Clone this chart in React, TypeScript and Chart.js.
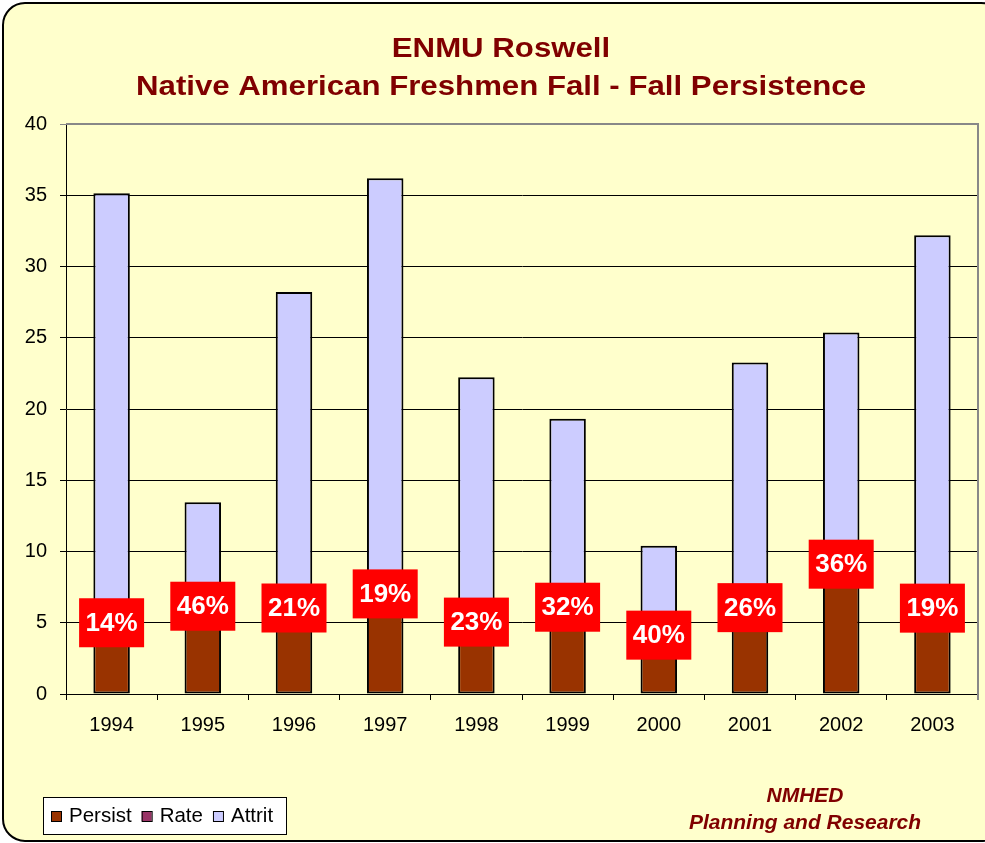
import React, { useEffect, useRef } from "react";
import Chart from "chart.js/auto";

const years = ["1994", "1995", "1996", "1997", "1998", "1999", "2000", "2001", "2002", "2003"];
const persist = [5, 6, 6, 7, 5, 6, 4, 6, 9, 6];
const rate = [0.14, 0.46, 0.21, 0.19, 0.23, 0.32, 0.4, 0.26, 0.36, 0.19];
const attrit = [30, 7, 22, 29, 17, 13, 6, 17, 16, 26];
const rateLabels = ["14%", "46%", "21%", "19%", "23%", "32%", "40%", "26%", "36%", "19%"];
const titleLines = ["ENMU Roswell", "Native American Freshmen Fall - Fall Persistence"];
const footerLines = ["NMHED", "Planning and Research"];
const seriesNames = ["Persist", "Rate", "Attrit"];
const seriesColors = ["#993300", "#993366", "#CCCCFF"];

const FONT = "'Liberation Sans', Arial, sans-serif";
const MAROON = "#800000";

const decor = {
  id: "decor",
  beforeDraw(chart: any) {
    const ctx = chart.ctx;
    ctx.save();
    ctx.fillStyle = "#ffffff";
    ctx.fillRect(0, 0, chart.width, chart.height);
    ctx.beginPath();
    ctx.roundRect(3, 3, 1000, 838, 22);
    ctx.fillStyle = "#FFFFCC";
    ctx.fill();
    ctx.lineWidth = 2;
    ctx.strokeStyle = "#000";
    ctx.stroke();
    ctx.restore();
  },
  afterDatasetsDraw(chart: any) {
    const ctx = chart.ctx;
    const a = chart.chartArea;
    ctx.save();
    ctx.strokeStyle = "#888888";
    ctx.lineWidth = 2;
    ctx.beginPath();
    ctx.moveTo(a.left, a.top);
    ctx.lineTo(a.right, a.top);
    ctx.lineTo(a.right, a.bottom + 6);
    ctx.stroke();
    const meta = chart.getDatasetMeta(1);
    ctx.font = `bold 26px ${FONT}`;
    ctx.textAlign = "center";
    ctx.textBaseline = "middle";
    meta.data.forEach((el: any, i: number) => {
      const cx = el.x;
      const cy = (el.y + el.base) / 2 + 1;
      const w = 65;
      const h = 49;
      ctx.fillStyle = "#FF0000";
      ctx.fillRect(cx - w / 2, cy - h / 2, w, h);
      ctx.fillStyle = "#ffffff";
      ctx.fillText(rateLabels[i], cx, cy + 1);
    });
    ctx.restore();
  },
  afterDraw(chart: any) {
    const ctx = chart.ctx;
    ctx.save();
    ctx.fillStyle = MAROON;
    ctx.font = `bold 28px ${FONT}`;
    ctx.textAlign = "center";
    ctx.textBaseline = "alphabetic";
    const w2 = ctx.measureText(titleLines[1]).width;
    const sx = 730 / w2;
    const baselines = [57, 95];
    titleLines.forEach((t, i) => {
      ctx.save();
      ctx.translate(501, baselines[i]);
      ctx.scale(sx, 1);
      ctx.fillText(t, 0, 0);
      ctx.restore();
    });
    ctx.font = `italic bold 21px ${FONT}`;
    ctx.fillText(footerLines[0], 805, 802);
    ctx.fillText(footerLines[1], 805, 829);
    ctx.fillStyle = "#ffffff";
    ctx.fillRect(43, 797, 243, 37);
    ctx.strokeStyle = "#000";
    ctx.lineWidth = 1;
    ctx.strokeRect(43.5, 797.5, 243, 37);
    ctx.font = `20.5px ${FONT}`;
    ctx.textAlign = "left";
    ctx.textBaseline = "middle";
    let x = 51;
    seriesNames.forEach((n, i) => {
      ctx.fillStyle = seriesColors[i];
      ctx.fillRect(x, 811, 10, 10);
      ctx.strokeStyle = "#000";
      ctx.strokeRect(x + 0.5, 811.5, 10, 10);
      ctx.fillStyle = "#000";
      ctx.fillText(n, x + 18, 816);
      x += 18 + ctx.measureText(n).width + 10;
    });
    ctx.restore();
  },
};

export default function App() {
  const ref = useRef<HTMLCanvasElement>(null);
  useEffect(() => {
    const common = {
      borderColor: "#000",
      borderSkipped: false,
      barPercentage: 0.4,
      categoryPercentage: 1,
    };
    const chart = new Chart(ref.current!, {
      type: "bar",
      data: {
        labels: years,
        datasets: [
          { label: seriesNames[0], data: persist, backgroundColor: seriesColors[0], borderWidth: 2, ...common },
          { label: seriesNames[1], data: rate, backgroundColor: seriesColors[1], borderWidth: 0, ...common },
          { label: seriesNames[2], data: attrit, backgroundColor: seriesColors[2], borderWidth: 2, ...common },
        ],
      },
      options: {
        responsive: false,
        animation: false,
        devicePixelRatio: 1,
        events: [],
        layout: { padding: { top: 124, right: 7, left: 0, bottom: 0 } },
        plugins: {
          legend: { display: false },
          title: { display: false },
          tooltip: { enabled: false },
        },
        scales: {
          x: {
            stacked: true,
            grid: { display: true, drawOnChartArea: false, drawTicks: true, tickLength: 6, color: "#000", offset: true },
            border: { display: true, color: "#000", width: 1 },
            ticks: { color: "#000", font: { family: FONT, size: 20 }, padding: 13, maxRotation: 0 },
            afterFit: (s: any) => {
              s.height = 149;
            },
          },
          y: {
            stacked: true,
            min: 0,
            max: 40,
            ticks: { stepSize: 5, color: "#000", font: { family: FONT, size: 20 }, padding: 13 },
            grid: {
              color: (c: any) => (c.tick && c.tick.value === 40 ? "#888888" : "#000"),
              tickLength: 6,
              lineWidth: 1,
            },
            border: { display: true, color: "#000", width: 1 },
            afterFit: (s: any) => {
              s.width = 66;
            },
          },
        },
      },
      plugins: [decor],
    } as any);
    return () => chart.destroy();
  }, []);
  return (
    <div style={{ position: "fixed", left: 0, top: 0, width: 985, height: 843 }}>
      <canvas ref={ref} width={985} height={843} style={{ width: 985, height: 843, display: "block" }} />
    </div>
  );
}
